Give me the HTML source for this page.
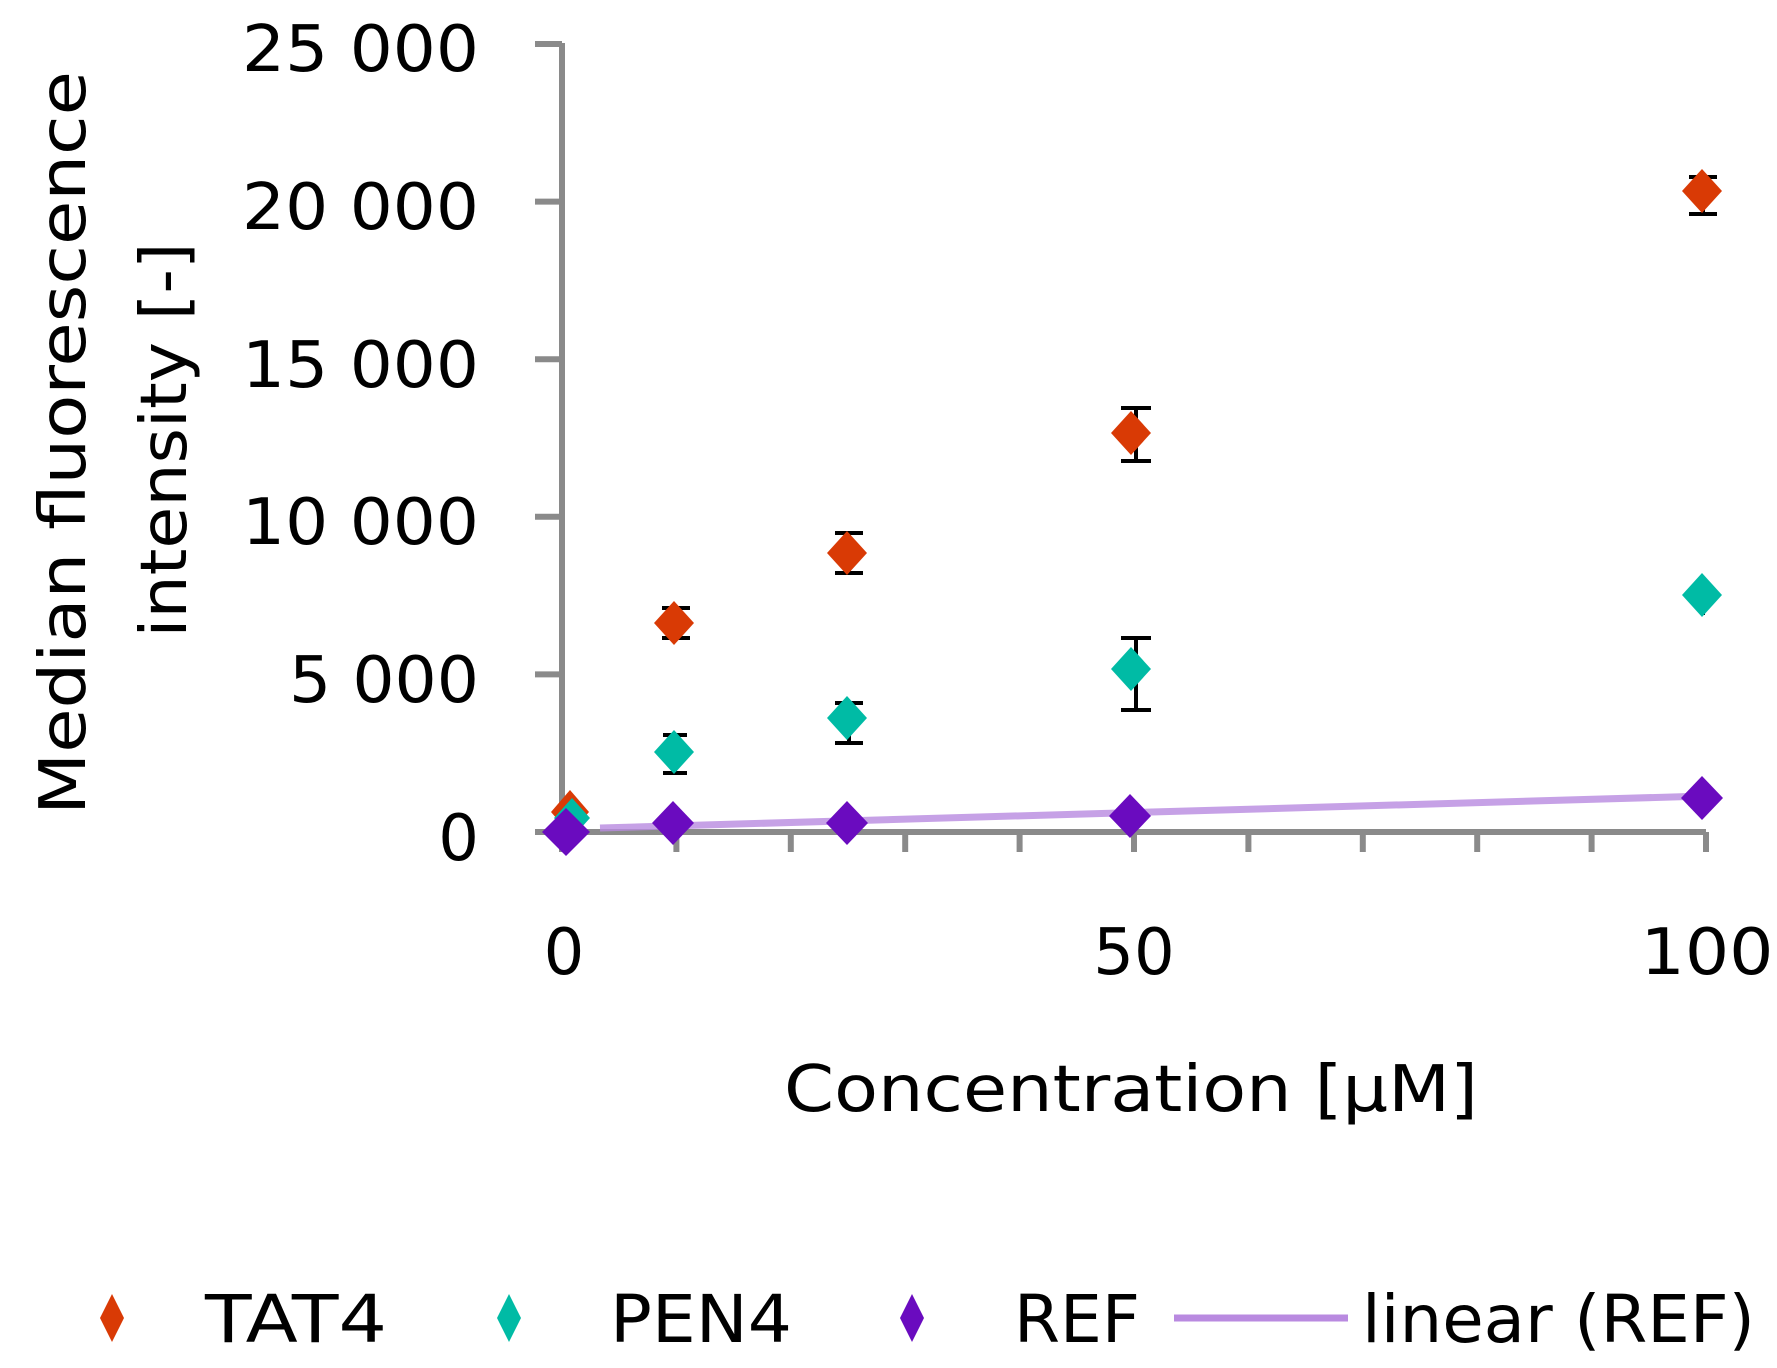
<!DOCTYPE html>
<html><head><meta charset="utf-8"><style>
html,body{margin:0;padding:0;background:#fff;width:1777px;height:1368px;overflow:hidden}
text{font-family:"DejaVu Sans","Liberation Sans",sans-serif;fill:#000}
</style></head><body>
<svg width="1777" height="1368" viewBox="0 0 1777 1368" xmlns="http://www.w3.org/2000/svg">
<g stroke="#8a8a8a" stroke-width="6" fill="none">
<line x1="562" y1="43" x2="562" y2="852"/>
<line x1="535" y1="832" x2="1706" y2="832"/>
<line x1="535" y1="44" x2="562" y2="44"/>
<line x1="535" y1="201.6" x2="562" y2="201.6"/>
<line x1="535" y1="359.2" x2="562" y2="359.2"/>
<line x1="535" y1="516.8" x2="562" y2="516.8"/>
<line x1="535" y1="674.4" x2="562" y2="674.4"/>
<line x1="676.4" y1="832" x2="676.4" y2="852"/>
<line x1="790.8" y1="832" x2="790.8" y2="852"/>
<line x1="905.2" y1="832" x2="905.2" y2="852"/>
<line x1="1019.6" y1="832" x2="1019.6" y2="852"/>
<line x1="1134" y1="832" x2="1134" y2="852"/>
<line x1="1248.4" y1="832" x2="1248.4" y2="852"/>
<line x1="1362.8" y1="832" x2="1362.8" y2="852"/>
<line x1="1477.2" y1="832" x2="1477.2" y2="852"/>
<line x1="1591.6" y1="832" x2="1591.6" y2="852"/>
<line x1="1706" y1="832" x2="1706" y2="852"/>
</g>
<g font-size="64" text-anchor="end">
<text x="479" y="71" textLength="237" lengthAdjust="spacingAndGlyphs">25 000</text>
<text x="479" y="229" textLength="237" lengthAdjust="spacingAndGlyphs">20 000</text>
<text x="479" y="387" textLength="237" lengthAdjust="spacingAndGlyphs">15 000</text>
<text x="479" y="544" textLength="237" lengthAdjust="spacingAndGlyphs">10 000</text>
<text x="479" y="702" textLength="190" lengthAdjust="spacingAndGlyphs">5 000</text>
<text x="479" y="860">0</text>
</g>
<g font-size="64" text-anchor="middle">
<text x="564" y="974">0</text>
<text x="1134" y="974">50</text>
<text x="1707" y="974" textLength="133" lengthAdjust="spacingAndGlyphs">100</text>
<text x="1131" y="1111" textLength="694" lengthAdjust="spacingAndGlyphs">Concentration [µM]</text>
<text transform="translate(85,443) rotate(-90)" textLength="744" lengthAdjust="spacingAndGlyphs">Median fluorescence</text>
<text transform="translate(186,440) rotate(-90)" textLength="395" lengthAdjust="spacingAndGlyphs">intensity [-]</text>
</g>
<line x1="600" y1="828" x2="1706" y2="796" stroke="#b98ae0" stroke-width="7" opacity="0.8"/>
<g stroke="#000" stroke-width="4" fill="none">
<path d="M675 608V638M662 608H690M662 638H690"/>
<path d="M849 533V573M835 533H863M835 573H863"/>
<path d="M1136 408V461M1121 408H1151M1121 461H1151"/>
<path d="M1703 177V214M1689 177H1717M1689 214H1717"/>
<path d="M675 735V773M663 735H687M663 773H687"/>
<path d="M849 703V743M835 703H863M835 743H863"/>
<path d="M1136 638V710M1121 638H1151M1121 710H1151"/>
<path d="M1703 581V615"/>
<path d="M675 810V838M1136 805V828M1703 785V812"/>
</g>
<g fill="#d93a05">
<path d="M570 790l19 22-19 22-19-22z"/>
<path d="M674 601l20 22-20 22-20-22z"/>
<path d="M847 531l20 22-20 22-20-22z"/>
<path d="M1131 411l20 22-20 22-20-22z"/>
<path d="M1702 169l20 22-20 22-20-22z"/>
</g>
<g fill="#00bba5">
<path d="M572 798l18 20-18 20-18-20z"/>
<path d="M674 730l20 22-20 22-20-22z"/>
<path d="M847 696l20 22-20 22-20-22z"/>
<path d="M1131 647l20 22-20 22-20-22z"/>
<path d="M1702 573l20 22-20 22-20-22z"/>
</g>
<g fill="#6a0bbf">
<path d="M566 808l24 24-24 24-24-24z"/>
<path d="M673 801l21 22-21 22-21-22z"/>
<path d="M847 801l21 22-21 22-21-22z"/>
<path d="M1130 794l21 22-21 22-21-22z"/>
<path d="M1702 776l21 22-21 22-21-22z"/>
</g>
<path d="M112 1294l12 24-12 24-12-24z" fill="#d93a05"/>
<path d="M509 1294l12 24-12 24-12-24z" fill="#00bba5"/>
<path d="M912 1294l12 24-12 24-12-24z" fill="#6a0bbf"/>
<line x1="1174" y1="1318" x2="1348" y2="1318" stroke="#b98ae0" stroke-width="7"/>
<g font-size="66">
<text x="205" y="1342" textLength="182" lengthAdjust="spacingAndGlyphs">TAT4</text>
<text x="610" y="1342" textLength="182" lengthAdjust="spacingAndGlyphs">PEN4</text>
<text x="1014" y="1342" textLength="126" lengthAdjust="spacingAndGlyphs">REF</text>
<text x="1362" y="1342" textLength="393" lengthAdjust="spacingAndGlyphs">linear (REF)</text>
</g>
</svg>
</body></html>
